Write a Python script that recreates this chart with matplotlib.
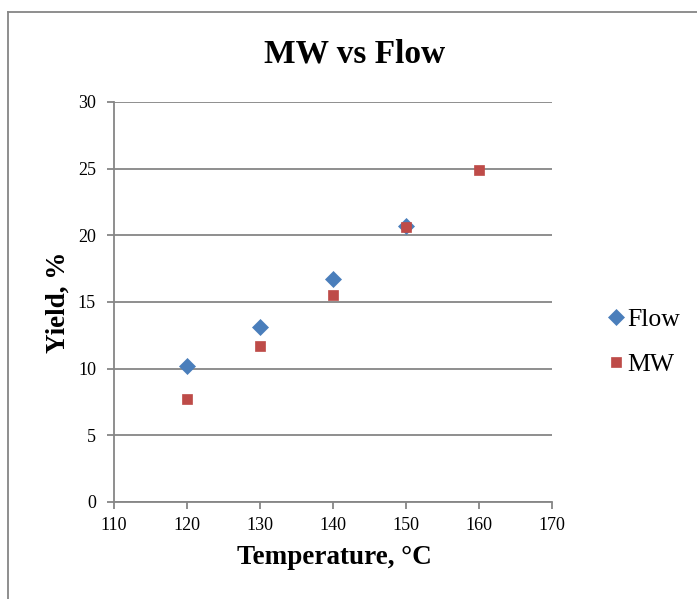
import matplotlib
matplotlib.use("Agg")
import matplotlib.pyplot as plt
from matplotlib.lines import Line2D

# Data
flow_temp = [120, 130, 140, 150]
flow_yield = [10.2, 13.1, 16.7, 20.7]
mw_temp = [120, 130, 140, 150, 160]
mw_yield = [7.75, 11.7, 15.55, 20.6, 24.9]
x_ticks = [110, 120, 130, 140, 150, 160, 170]
y_ticks = [0, 5, 10, 15, 20, 25, 30]

W, H = 697, 599
plt.rcParams['font.family'] = ['Liberation Serif', 'DejaVu Serif']
fig = plt.figure(figsize=(W / 100, H / 100), dpi=100)

def fx(px):
    return px / W

def fy(py):
    return 1 - py / H

grey = '#868686'
blue = '#4A7EBB'
red = '#BE4B48'

# outer chart frame
fig.add_artist(Line2D([fx(8), fx(8)], [fy(12), 0], color=grey, lw=1.3, transform=fig.transFigure))
fig.add_artist(Line2D([fx(8), 1], [fy(12), fy(12)], color=grey, lw=1.3, transform=fig.transFigure))

ax = fig.add_axes([fx(114), fy(502), fx(552) - fx(114), fy(102) - fy(502)])
ax.set_xlim(110, 170)
ax.set_ylim(0, 30)
ax.set_xticks(x_ticks)
ax.set_yticks(y_ticks)
ax.grid(axis='y', color=grey, lw=1.3)
ax.set_axisbelow(True)
for s in ['top', 'right']:
    ax.spines[s].set_visible(False)
for s in ['left', 'bottom']:
    ax.spines[s].set_color(grey)
    ax.spines[s].set_linewidth(1.3)
ax.tick_params(axis='both', direction='out', length=5, width=1.3, color=grey,
               labelsize=13, labelcolor='black')
ax.tick_params(axis='y', pad=8)
ax.tick_params(axis='x', pad=6)

ax.plot(flow_temp, flow_yield, linestyle='none', marker='D', markersize=8.6,
        color=blue, markeredgecolor=blue, markeredgewidth=0.5, label='Flow', clip_on=False)
ax.plot(mw_temp, mw_yield, linestyle='none', marker='s', markersize=6.8,
        color=red, markeredgecolor=red, markeredgewidth=0.5, label='MW', clip_on=False)

leg = ax.legend(loc='center left', bbox_to_anchor=(1.096, 0.401), frameon=False,
                fontsize=18.5, handletextpad=0.0, labelspacing=0.85,
                handlelength=0.9, borderaxespad=0)

fig.text(fx(355), fy(54), 'MW vs Flow', ha='center', va='center',
         fontsize=24, fontweight='bold')
fig.text(fx(334), fy(558), 'Temperature, °C', ha='center', va='center',
         fontsize=19.5, fontweight='bold')
fig.text(fx(58), fy(302), 'Yield, %', ha='center', va='center',
         fontsize=19.5, fontweight='bold', rotation=90)

fig.savefig('out.png', dpi=100)
